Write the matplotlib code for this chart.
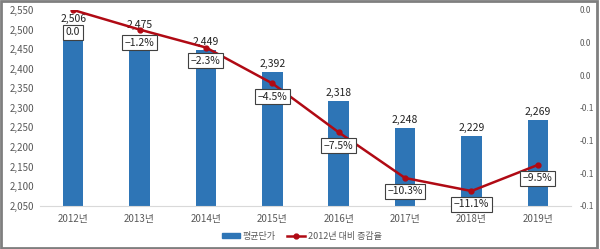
import matplotlib
matplotlib.use("Agg")
import matplotlib.pyplot as plt
from matplotlib.patches import Rectangle
from matplotlib.ticker import FuncFormatter, MultipleLocator

plt.rcParams['font.family'] = ['Noto Sans CJK KR', 'DejaVu Sans']

years = ['2012년', '2013년', '2014년', '2015년', '2016년', '2017년', '2018년', '2019년']
price = [2506, 2475, 2449, 2392, 2318, 2248, 2229, 2269]
change = [0.0, -1.2, -2.3, -4.5, -7.5, -10.3, -11.1, -9.5]
change_labels = ['0.0', '−1.2%', '−2.3%', '−4.5%', '−7.5%', '−10.3%', '−11.1%', '−9.5%']

blue = '#2E75B6'
red = '#B00A14'
gray = '#595959'

fig = plt.figure(figsize=(6, 2.49), dpi=100)
ax = fig.add_axes([40/600, 1 - 205.7/249, 531/600, 195.7/249])
ax2 = ax.twinx()

x = list(range(len(years)))
ax.bar(x, price, width=0.31, color=blue, zorder=2)
ax.set_ylim(2050, 2550)
ax.set_xlim(-0.5, 7.5)
ax.yaxis.set_major_locator(MultipleLocator(50))
ax.yaxis.set_major_formatter(FuncFormatter(lambda v, p: f"{int(v):,}"))
ax.set_xticks(x)
ax.set_xticklabels(years)
ax.tick_params(axis='both', length=0, labelsize=7, colors=gray, pad=4)
ax.tick_params(axis='x', pad=6)
for s in ['top', 'left', 'right']:
    ax.spines[s].set_visible(False)
    ax2.spines[s].set_visible(False)
ax.spines['bottom'].set_color('#D9D9D9')
ax2.spines['bottom'].set_visible(False)

# bar value labels
for i, v in enumerate(price):
    off = 7 if i == 1 else 2
    ax.annotate(f"{v:,}", (i, v), xytext=(0, off), textcoords='offset points',
                ha='center', va='bottom', fontsize=7.5, color='#222222')

ratio = [c / 100 for c in change]
ax2.plot(x, ratio, color=red, lw=1.8, marker='o', ms=3.5, zorder=3)
ax2.set_ylim(-0.12, 0.0)
ax2.yaxis.set_major_locator(MultipleLocator(0.02))
ax2.yaxis.set_major_formatter(FuncFormatter(lambda v, p: f"{round(v, 1) + 0:.1f}"))
ax2.tick_params(axis='y', length=0, labelsize=6, colors=gray, pad=6)

for i, r in enumerate(ratio):
    off = -16 if i == 0 else -9.5
    ax2.annotate(change_labels[i], (i, r), xytext=(0, off), textcoords='offset points',
                 ha='center', va='center', fontsize=7.5, color='#222222', zorder=5,
                 bbox=dict(boxstyle='square,pad=0.25', fc='white', ec='#404040', lw=0.8))

h1 = Rectangle((0, 0), 1, 1, color=blue)
h2, = ax.plot([], [], color=red, lw=1.8, marker='o', ms=3.5)
fig.legend([h1, h2], ['평균단가', '2012년 대비 증감율'], loc='center', bbox_to_anchor=(0.503, 1 - 236/249),
           ncol=2, frameon=False, fontsize=6.5, handlelength=2.0, handleheight=0.5,
           columnspacing=1.2, handletextpad=0.3, labelcolor=gray)

fig.patches.append(Rectangle((0.002, 0.006), 0.993, 0.99, transform=fig.transFigure,
                             fill=False, ec='#7F7F7F', lw=2))

fig.savefig('out.png', dpi=100)
